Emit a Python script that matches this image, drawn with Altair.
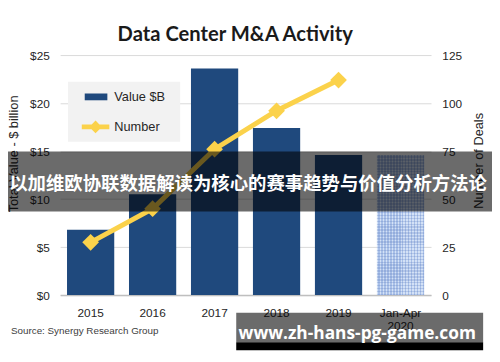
import altair as alt
import pandas as pd

# ---- data ----
categories = ["2015", "2016", "2017", "2018", "2019", "Jan-Apr 2020"]
values_b = [6.8, 10.5, 23.6, 17.4, 14.6, 14.6]
deals = [27.5, 45, 76, 96, 112, None]
bar_kind = ["full", "full", "full", "full", "full", "partial"]
left_ticks = [0, 5, 10, 15, 20, 25]
right_ticks = [0, 25, 50, 75, 100, 125]
title_text = ["Data Center M&A Activity"]
source_text = ["Source: Synergy Research Group"]
banner_text = ["以加维欧协联数据解读为核心的赛事趋势与价值分析方法论"]
watermark_text = ["www.zh-hans-pg-game.com"]

NAVY = "#1f497d"
YELLOW = "#fbd24b"
FONT = "Liberation Sans"
TXT = "#262626"

df = pd.DataFrame({"cat": categories, "value": values_b, "deals": deals, "kind": bar_kind})
one = pd.DataFrame({"k": [0]})


def stripes(n, c1, c2, vertical=True):
    stops = []
    for i in range(n):
        a, b, c = i / n, (i + 0.5) / n, (i + 1) / n
        stops += [{"offset": a, "color": c1}, {"offset": b, "color": c1},
                  {"offset": b, "color": c2}, {"offset": c, "color": c2}]
    g = {"gradient": "linear", "stops": stops}
    if vertical:
        g.update(x1=0, y1=0, x2=1, y2=0)
    else:
        g.update(x1=0, y1=0, x2=0, y2=1)
    return g


x_enc = alt.X(
    "cat:N", sort=categories, title=None,
    scale=alt.Scale(paddingInner=0.238, paddingOuter=0.111),
    axis=alt.Axis(labelAngle=0, labelExpr="split(datum.label, ' ')", ticks=False,
                  domainColor="#bfbfbf", domainWidth=1.5, labelFont=FONT,
                  labelFontSize=12, labelColor=TXT, labelPadding=13,
                  labelLineHeight=13, grid=False),
)

y_left = alt.Y(
    "value:Q", scale=alt.Scale(domain=[0, 25], nice=False),
    axis=alt.Axis(orient="left", values=left_ticks, labelExpr="'$' + datum.value",
                  grid=True, gridColor="#d9d9d9", gridWidth=1, domain=False, ticks=False,
                  labelPadding=11, labelFont=FONT, labelFontSize=12, labelColor=TXT,
                  title="Total Value - $ billion", titleFont=FONT, titleFontSize=13,
                  titleFontWeight="normal", titleColor=TXT, titleX=-47.5, titleY=100,
                  titleAngle=270, titleBaseline="middle", titleAlign="center"),
)
y_left_plain = alt.Y("value:Q", scale=alt.Scale(domain=[0, 25], nice=False), axis=None)

y_right = alt.Y(
    "deals:Q", scale=alt.Scale(domain=[0, 125], nice=False),
    axis=alt.Axis(orient="right", values=right_ticks, grid=False, domain=False, ticks=False,
                  labelPadding=11, labelFont=FONT, labelFontSize=12, labelColor=TXT,
                  title="Number of Deals", titleFont=FONT, titleFontSize=13,
                  titleFontWeight="normal", titleColor=TXT, titleX=48, titleY=107,
                  titleAngle=270, titleBaseline="middle", titleAlign="center"),
)
y_right_plain = alt.Y("deals:Q", scale=alt.Scale(domain=[0, 125], nice=False), axis=None)

leg1 = alt.Legend(orient="none", legendX=25, legendY=31, title=None,
                  symbolType="M-1,-0.3H1V0.3H-1Z", symbolSize=529, symbolStrokeWidth=0,
                  labelFont=FONT, labelFontSize=13, labelColor=TXT, labelOffset=7, padding=0)
leg2 = alt.Legend(orient="none", legendX=22, legendY=59, title=None,
                  symbolType="M-1,-0.17H1V0.17H-1Z M0,-0.46L0.46,0L0,0.46L-0.46,0Z",
                  symbolSize=784, symbolStrokeWidth=0,
                  labelFont=FONT, labelFontSize=13, labelColor=TXT, labelOffset=5, padding=0)


def rect_layer(x1, x2, y1, y2, color, opacity):
    return alt.Chart(one).mark_rect(color=color, opacity=opacity, strokeWidth=0).encode(
        x=alt.value(x1), x2=alt.value(x2), y=alt.value(y1), y2=alt.value(y2))


def text_layer(txt, x, y, **kw):
    return alt.Chart(pd.DataFrame({"t": txt})).mark_text(**kw).encode(
        x=alt.value(x), y=alt.value(y), text="t:N")


legend_bg = rect_layer(8, 122, 27, 88, "#f2f2f2", 1)

bars = alt.Chart(df).transform_filter("datum.kind == 'full'").transform_calculate(
    s1="'Value $B'").mark_bar().encode(
    x=x_enc, y=y_left,
    color=alt.Color("s1:N", scale=alt.Scale(domain=["Value $B"], range=[NAVY]), legend=leg1))

part1 = alt.Chart(df).transform_filter("datum.kind == 'partial'").mark_bar(
    fill=stripes(16, "#d3e1f6", "#a9c0e8", True)).encode(x=x_enc, y=y_left_plain)
part2 = alt.Chart(df).transform_filter("datum.kind == 'partial'").mark_bar(
    fill=stripes(48, "rgba(255,255,255,0)", "rgba(70,105,180,0.22)", False)).encode(
    x=x_enc, y=y_left_plain)

line = alt.Chart(df).mark_line(color=YELLOW, strokeWidth=5).encode(x=x_enc, y=y_right)
points = alt.Chart(df).transform_calculate(s2="'Number'").mark_point(
    shape="diamond", filled=True, size=289, opacity=1).encode(
    x=x_enc, y=y_right_plain,
    fill=alt.Fill("s2:N", scale=alt.Scale(domain=["Number"], range=[YELLOW]), legend=leg2))

banner_rect = rect_layer(-53, 439, 98, 159, "black", 0.58)
wm_rect = rect_layer(179, 430, 262, 292, "black", 0.58)
wm_strip = rect_layer(179, 430, 292, 300, "black", 1)

title_t = text_layer(title_text, 178, -14, font="Lato", fontSize=20.5, fontWeight="bold",
                     color="#1a1a1a", align="center", baseline="alphabetic")
source_t = text_layer(source_text, -50, 284, font=FONT, fontSize=10, color="#404040",
                      align="left", baseline="alphabetic")
banner_t = text_layer(banner_text, 191, 131, font="Noto Sans CJK SC", fontSize=18.7,
                      fontWeight="bold", color="white", align="center", baseline="middle")
wm_t = text_layer(watermark_text, 302, 289, font="Open Sans", fontSize=17.6, fontWeight="bold",
                  color="white", align="center", baseline="alphabetic")

chart = alt.layer(
    legend_bg, bars, part1, part2, line, points,
    banner_rect, wm_rect, wm_strip, title_t, source_t, banner_t, wm_t,
).resolve_scale(y="independent").properties(
    width=377, height=244,
    autosize=alt.AutoSizeParams(type="none"),
    padding={"left": 53, "top": 45, "right": 62, "bottom": 57},
    background="white",
).configure_view(stroke=None)

chart.save("out.html", embed_options={"renderer": "svg", "actions": False})
